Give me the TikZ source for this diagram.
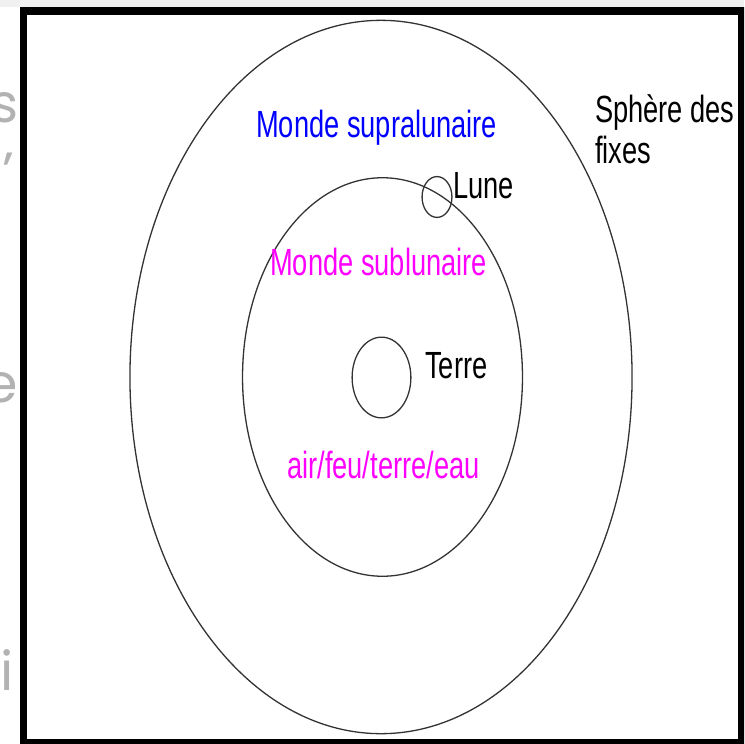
\documentclass[tikz,border=0pt]{standalone}
\usepackage{fontspec}
\usepackage{tikz}
\usetikzlibrary{shapes.geometric}
\newfontfamily\arialfont{Liberation Sans}
\newfontfamily\slidefont{Poppins}
\definecolor{sublun}{RGB}{255,0,255}
\newcommand{\squeezed}[1]{\scalebox{0.72}[1]{#1}}

\begin{document}
\begin{tikzpicture}[x=1bp, y=-1bp,
  orb/.style={ellipse, draw=black!80, line width=1.3bp, inner sep=0pt},
  lbl/.style={inner sep=0pt, anchor=base west,
              font=\fontsize{38}{40}\selectfont\arialfont},
  slide/.style={inner sep=0pt, anchor=base east, text=gray!60,
                font=\fontsize{54}{60}\selectfont\slidefont}
]
\useasboundingbox (0,0) rectangle (744,744);
\fill[gray!12] (0,0) rectangle (744,7);

%% ---- slide text behind the frame ----
\node[slide] (sl1) at (19,122) {s};
\node[slide] (sl2) at (14,190) {’};
\node[slide] (sl3) at (18,402) {e};
\node[slide] (sl4) at (14,690) {i};

%% ---- frame ----
\begin{scope}
  \clip (0,0) rectangle (744,744);
  \draw[line width=7.5bp] (23.5,11) rectangle (742,743);
\end{scope}

%% ---- spheres ----
\node[orb, minimum width=504, minimum height=716] at (381,377)   (fixes) {};
\node[orb, minimum width=281, minimum height=400] at (382.5,377) (sub)   {};
\node[orb, minimum width=59,  minimum height=81]  at (381.5,377.5) (terre) {};
\node[orb, minimum width=30,  minimum height=41]  at (437,197)   (lune)  {};

%% ---- labels ----
\node[lbl, text=blue]   at (256,137) (supra)  {\squeezed{Monde supralunaire}};
\node[lbl]              at (453,198) (lunel)  {\squeezed{Lune}};
\node[lbl, text=sublun] at (270,275) (subl)   {\squeezed{Monde sublunaire}};
\node[lbl]              at (425,378) (terrel) {\squeezed{Terre}};
\node[lbl, text=sublun] at (287,478) (elem)   {\squeezed{air/feu/terre/eau}};
\node[lbl]              at (595,122) (sph)    {\squeezed{Sphère des}};
\node[lbl]              at (595,163) (fix)    {\squeezed{fixes}};
\end{tikzpicture}
\end{document}
